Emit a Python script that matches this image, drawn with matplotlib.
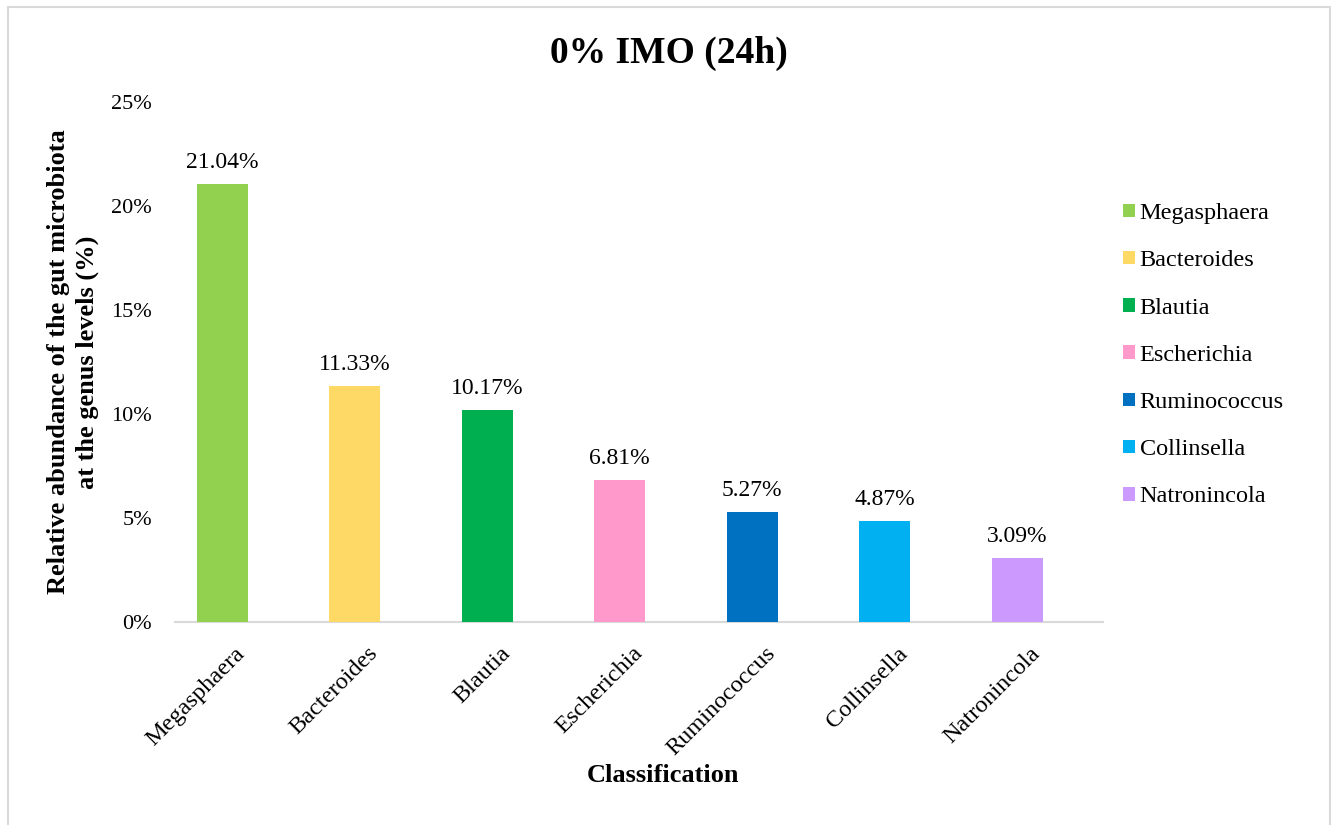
import numpy as np
import matplotlib.pyplot as plt
from matplotlib.patches import Rectangle, Patch

plt.rcParams['font.family'] = ['Liberation Serif', 'DejaVu Serif']

# ============ 数据 ============
genera = ['Megasphaera', 'Bacteroides', 'Blautia', 'Escherichia',
          'Ruminococcus', 'Collinsella', 'Natronincola']
abundance = [21.04, 11.33, 10.17, 6.81, 5.27, 4.87, 3.09]
bar_colors = ['#92D050', '#FFD966', '#00B050', '#FF99CC',
              '#0070C0', '#00B0F0', '#CC99FF']
y_ticks = [0, 5, 10, 15, 20, 25]

W, H = 1331, 825
fig = plt.figure(figsize=(W / 100, H / 100), dpi=100)
ax = fig.add_axes([175 / W, 1 - 622 / H, 928 / W, 520 / H])

x = np.arange(len(genera))
ax.bar(x, abundance, width=0.385, color=bar_colors, zorder=3)

# 柱顶数值标注
for xi, v in zip(x, abundance):
    ax.annotate(f'{v:.2f}%', (xi, v), xytext=(0, 8), textcoords='offset points',
                ha='center', va='bottom', fontsize=17)

ax.set_xlim(-0.355, 6.649)
ax.set_ylim(0, 25)
ax.set_yticks(y_ticks)
ax.set_yticklabels([f'{t}%' for t in y_ticks], fontsize=16)
ax.set_xticks(x)
ax.set_xticklabels([])

# 斜置的类别标签
for xi, name in zip(x, genera):
    ax.annotate(name, (xi, 0), xycoords=('data', 'axes fraction'),
                xytext=(9, -15), textcoords='offset points',
                rotation=45, rotation_mode='anchor', ha='right', va='top',
                fontsize=17.5)

ax.tick_params(axis='both', length=0)
ax.tick_params(axis='y', pad=16.5)
for side in ['top', 'right', 'left']:
    ax.spines[side].set_visible(False)
ax.spines['bottom'].set_color('#D9D9D9')
ax.spines['bottom'].set_linewidth(1.5)

fig.text(669 / W, 1 - 63 / H, '0% IMO (24h)', fontsize=27, fontweight='bold',
         ha='center', va='baseline')
fig.text(663 / W, 1 - 782 / H, 'Classification', fontsize=19, fontweight='bold',
         ha='center', va='baseline')
fig.text(73 / W, 1 - 362 / H,
         'Relative abundance of the gut microbiota\nat the genus levels (%)',
         fontsize=19, fontweight='bold', rotation=90, ha='center', va='center',
         multialignment='center', linespacing=1.35)

handles = [Patch(facecolor=c, edgecolor='none') for c in bar_colors]
fig.legend(handles, genera, loc='upper left', bbox_to_anchor=(1123 / W, 1 - 203 / H),
           frameon=False, fontsize=17.5, handlelength=0.49, handleheight=0.49,
           handletextpad=0.2, labelspacing=1.08, borderaxespad=0, borderpad=0)

# 外框
fig.patches.append(Rectangle((8 / W, -0.05), 1322 / W, 1.05 - 7 / H,
                             transform=fig.transFigure, fill=False,
                             edgecolor='#D9D9D9', linewidth=1.5))

fig.savefig('out.png', dpi=100, facecolor='white')
